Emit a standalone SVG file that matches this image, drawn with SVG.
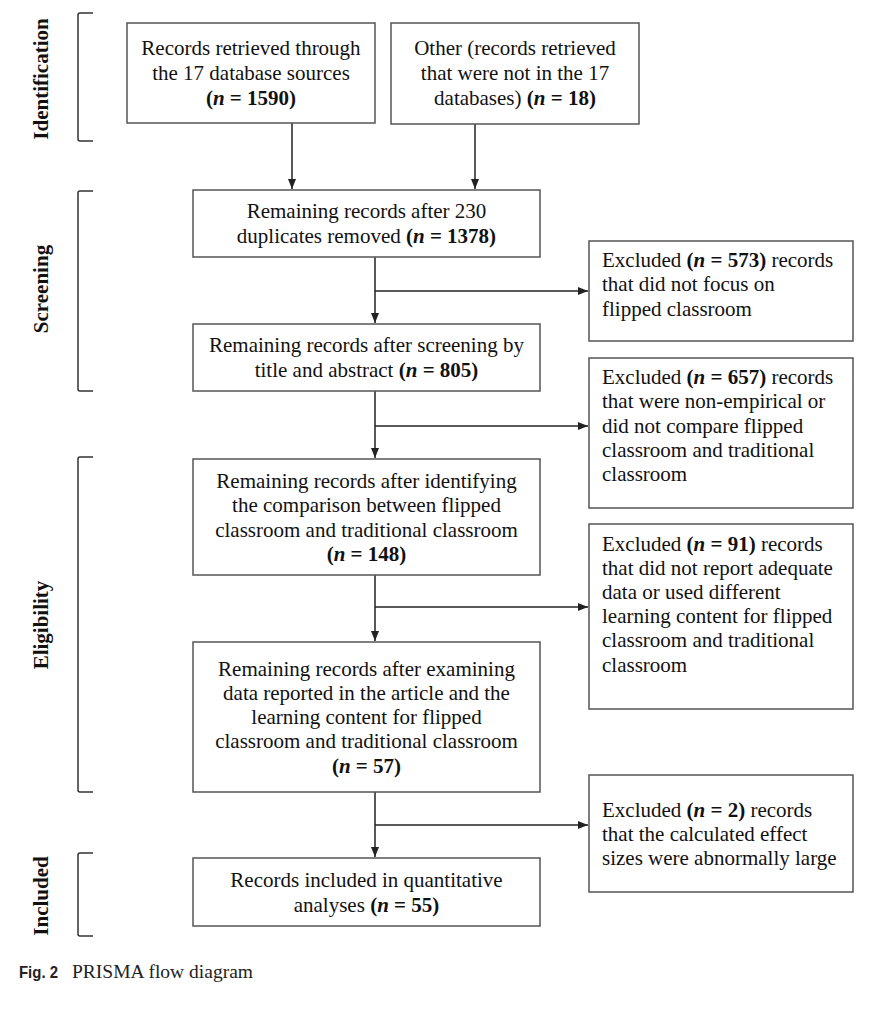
<svg xmlns="http://www.w3.org/2000/svg" width="869" height="1024" viewBox="0 0 869 1024">
<style>
.t{font-family:"Liberation Serif","Times New Roman",serif;font-size:21px;fill:#111}
.m{text-anchor:middle}
.b{font-weight:bold}
.bi{font-weight:bold;font-style:italic}
.box{fill:#fff;stroke:#555;stroke-width:1.5}
.c{stroke:#222;stroke-width:1.5;fill:none}
.br{stroke:#333;stroke-width:1.5;fill:none}
.lab{font-weight:bold;text-anchor:middle}
</style>
<defs>
<marker id="ah" markerUnits="userSpaceOnUse" markerWidth="10" markerHeight="8" refX="10" refY="4" orient="auto">
<path d="M0,0 L10,4 L0,8 z" fill="#222"/>
</marker>
</defs>
<rect width="869" height="1024" fill="#fff"/>

<g id="phases">
<path class="br" d="M93,13 H80 Q78,13 78,15 V139 Q78,141 80,141 H93"/>
<text class="t lab" transform="translate(48,79) rotate(-90)">Identification</text>
<path class="br" d="M93,191 H80 Q78,191 78,193 V389 Q78,391 80,391 H93"/>
<text class="t lab" transform="translate(48,289) rotate(-90)">Screening</text>
<path class="br" d="M93,457 H80 Q78,457 78,459 V790 Q78,792 80,792 H93"/>
<text class="t lab" transform="translate(48,625) rotate(-90)">Eligibility</text>
<path class="br" d="M93,853 H80 Q78,853 78,855 V934 Q78,936 80,936 H93"/>
<text class="t lab" transform="translate(48,896) rotate(-90)">Included</text>
</g>

<g id="connectors">
<path class="c" d="M292,123 V189" marker-end="url(#ah)"/>
<path class="c" d="M475,124 V189" marker-end="url(#ah)"/>
<path class="c" d="M375,257 V323" marker-end="url(#ah)"/>
<path class="c" d="M375,291 H588" marker-end="url(#ah)"/>
<path class="c" d="M375,391 V458" marker-end="url(#ah)"/>
<path class="c" d="M375,426 H588" marker-end="url(#ah)"/>
<path class="c" d="M375,575 V641" marker-end="url(#ah)"/>
<path class="c" d="M375,607 H588" marker-end="url(#ah)"/>
<path class="c" d="M375,792 V857" marker-end="url(#ah)"/>
<path class="c" d="M375,825 H588" marker-end="url(#ah)"/>
</g>

<g id="n1">
<rect class="box" x="127" y="23" width="248" height="100"/>
<text class="t m" x="251" y="55">Records retrieved through</text>
<text class="t m" x="251" y="80">the 17 database sources</text>
<text class="t m b" x="251" y="105">(<tspan class="bi">n</tspan> = 1590)</text>
</g>

<g id="n2">
<rect class="box" x="391" y="23" width="248" height="101"/>
<text class="t m" x="515" y="55">Other (records retrieved</text>
<text class="t m" x="515" y="80">that were not in the 17</text>
<text class="t m" x="515" y="105">databases) <tspan class="b">(</tspan><tspan class="bi">n</tspan><tspan class="b"> = 18)</tspan></text>
</g>

<g id="n3">
<rect class="box" x="193" y="190" width="347" height="67"/>
<text class="t m" x="366.5" y="218">Remaining records after 230</text>
<text class="t m" x="366.5" y="243">duplicates removed <tspan class="b">(</tspan><tspan class="bi">n</tspan><tspan class="b"> = 1378)</tspan></text>
</g>

<g id="n4">
<rect class="box" x="193" y="324" width="347" height="67"/>
<text class="t m" x="366.5" y="352">Remaining records after screening by</text>
<text class="t m" x="366.5" y="377">title and abstract <tspan class="b">(</tspan><tspan class="bi">n</tspan><tspan class="b"> = 805)</tspan></text>
</g>

<g id="n5">
<rect class="box" x="193" y="459" width="347" height="116"/>
<text class="t m" x="366.5" y="488">Remaining records after identifying</text>
<text class="t m" x="366.5" y="512">the comparison between flipped</text>
<text class="t m" x="366.5" y="537">classroom and traditional classroom</text>
<text class="t m b" x="366.5" y="561">(<tspan class="bi">n</tspan> = 148)</text>
</g>

<g id="n6">
<rect class="box" x="193" y="642" width="347" height="150"/>
<text class="t m" x="366.5" y="676">Remaining records after examining</text>
<text class="t m" x="366.5" y="700">data reported in the article and the</text>
<text class="t m" x="366.5" y="724">learning content for flipped</text>
<text class="t m" x="366.5" y="748">classroom and traditional classroom</text>
<text class="t m b" x="366.5" y="773">(<tspan class="bi">n</tspan> = 57)</text>
</g>

<g id="n7">
<rect class="box" x="193" y="858" width="347" height="68"/>
<text class="t m" x="366.5" y="887">Records included in quantitative</text>
<text class="t m" x="366.5" y="912">analyses <tspan class="b">(</tspan><tspan class="bi">n</tspan><tspan class="b"> = 55)</tspan></text>
</g>

<g id="x1">
<rect class="box" x="589" y="241" width="264" height="100"/>
<text class="t" x="602" y="267">Excluded <tspan class="b">(</tspan><tspan class="bi">n</tspan><tspan class="b"> = 573)</tspan> records</text>
<text class="t" x="602" y="291">that did not focus on</text>
<text class="t" x="602" y="316">flipped classroom</text>
</g>

<g id="x2">
<rect class="box" x="589" y="358" width="264" height="150"/>
<text class="t" x="602" y="384">Excluded <tspan class="b">(</tspan><tspan class="bi">n</tspan><tspan class="b"> = 657)</tspan> records</text>
<text class="t" x="602" y="408">that were non-empirical or</text>
<text class="t" x="602" y="433">did not compare flipped</text>
<text class="t" x="602" y="457">classroom and traditional</text>
<text class="t" x="602" y="481">classroom</text>
</g>

<g id="x3">
<rect class="box" x="589" y="524" width="264" height="185"/>
<text class="t" x="602" y="551">Excluded <tspan class="b">(</tspan><tspan class="bi">n</tspan><tspan class="b"> = 91)</tspan> records</text>
<text class="t" x="602" y="575">that did not report adequate</text>
<text class="t" x="602" y="599">data or used different</text>
<text class="t" x="602" y="623">learning content for flipped</text>
<text class="t" x="602" y="647">classroom and traditional</text>
<text class="t" x="602" y="672">classroom</text>
</g>

<g id="x4">
<rect class="box" x="589" y="775" width="264" height="117"/>
<text class="t" x="602" y="817">Excluded <tspan class="b">(</tspan><tspan class="bi">n</tspan><tspan class="b"> = 2)</tspan> records</text>
<text class="t" x="602" y="841">that the calculated effect</text>
<text class="t" x="602" y="865">sizes were abnormally large</text>
</g>

<g id="caption">
<text x="19" y="978" textLength="39" lengthAdjust="spacingAndGlyphs" style="font-family:'Liberation Sans',Arial,sans-serif;font-size:17px;font-weight:bold;fill:#222">Fig. 2</text>
<text x="72" y="978" textLength="181" lengthAdjust="spacingAndGlyphs" style="font-family:'Liberation Serif','Times New Roman',serif;font-size:19px;fill:#222">PRISMA flow diagram</text>
</g>
</svg>
